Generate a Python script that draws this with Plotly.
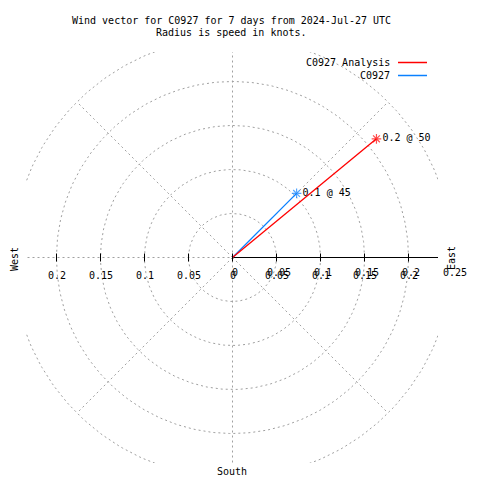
import numpy as np
import plotly.graph_objects as go

# ---- data ----
series_names = ["C0927", "C0927 Analysis"]
series_colors = ["#0a80ff", "#ff0000"]
speeds = [0.103, 0.212]          # knots
directions = [45.0, 50.5]        # degrees, compass (clockwise from north)
vector_labels = ["0.1 @ 45", "0.2 @ 50"]

grid_radii = [0.05, 0.10, 0.15, 0.20, 0.25]
spoke_angles = [45, 135, 225, 315]
x_tick_values = [-0.2, -0.15, -0.1, -0.05, 0.0, 0.05, 0.1, 0.15, 0.2]
x_tick_labels = ["0.2", "0.15", "0.1", "0.05", "0", "0.05", "0.1", "0.15", "0.2"]
r_tick_values = [0.0, 0.05, 0.1, 0.15, 0.2, 0.25]
r_tick_labels = ["0", "0.05", "0.1", "0.15", "0.2", "0.25"]

title_lines = ["Wind vector for C0927 for 7 days from 2024-Jul-27 UTC",
               "Radius is speed in knots."]

FONT = "DejaVu Sans Mono"
FS = 10
GRID = "#a0a0a0"
DASH = "2px,3px"

# page offset (body margin) = 8 px; work in screen pixels then convert
OFF = 8
W = H = 480 - OFF
L, R, T, B = 26 - OFF, 42, 52 - OFF, 17
CX, CY = 232.5 - OFF, 257.5 - OFF
S = 880.0  # px per knot
xr = [-(CX - L) / S, (W - R - CX) / S]
yr = [-(H - B - CY) / S, (CY - T) / S]


def px(x):
    return (x - OFF - L) / (W - L - R)


def py(y):
    return (H - B - (y - OFF)) / (H - T - B)


fig = go.Figure()
gridline = dict(color=GRID, width=1, dash=DASH)

# grid circles
theta = np.linspace(0, 2 * np.pi, 361)
for r in grid_radii:
    fig.add_trace(go.Scatter(x=r * np.cos(theta), y=r * np.sin(theta), mode="lines",
                             line=gridline, hoverinfo="skip", showlegend=False))
# spokes
rmax = grid_radii[-1]
for a in spoke_angles:
    t = np.deg2rad(a)
    fig.add_trace(go.Scatter(x=[0, rmax * np.sin(t)], y=[0, rmax * np.cos(t)], mode="lines",
                             line=gridline, hoverinfo="skip", showlegend=False))
# vertical full line, horizontal left half
fig.add_trace(go.Scatter(x=[0, 0], y=[-1, 1], mode="lines", line=gridline,
                         hoverinfo="skip", showlegend=False))
fig.add_trace(go.Scatter(x=[-1, 0], y=[0, 0], mode="lines", line=gridline,
                         hoverinfo="skip", showlegend=False))
# black axis to the right
fig.add_trace(go.Scatter(x=[0, 1], y=[0, 0], mode="lines", line=dict(color="black", width=1),
                         hoverinfo="skip", showlegend=False))

shapes = []
# tick marks
for tv in x_tick_values:
    shapes.append(dict(type="line", xref="x", yref="y", x0=tv, x1=tv,
                       ysizemode="pixel", yanchor=0, y0=-4, y1=4,
                       line=dict(color="black", width=1)))

# legend
legend_order = [1, 0]
annotations = []
tfont = dict(family=FONT, size=FS, color="black")
for i, idx in enumerate(legend_order):
    yy = 62.5 + i * 13
    shapes.append(dict(type="line", xref="paper", yref="paper",
                       x0=px(398), x1=px(427), y0=py(yy), y1=py(yy),
                       line=dict(color=series_colors[idx], width=1.5)))
    annotations.append(dict(xref="paper", yref="paper", x=px(392), y=py(yy),
                            text=series_names[idx], showarrow=False,
                            xanchor="right", yanchor="middle", font=tfont))

# vectors
for name, col, sp, d, lab in zip(series_names, series_colors, speeds, directions, vector_labels):
    t = np.deg2rad(d)
    ex, ey = sp * np.sin(t), sp * np.cos(t)
    fig.add_trace(go.Scatter(
        x=[0, ex], y=[0, ey], mode="lines+markers+text", name=name,
        line=dict(color=col, width=1.3),
        marker=dict(symbol="asterisk-open", size=[0, 8], color=col,
                    line=dict(color=col, width=1.2)),
        text=["", lab], textposition="middle right",
        textfont=tfont,
        showlegend=False, hoverinfo="skip", cliponaxis=False))

# tick labels (anchored at origin, shifted by the axis scale so off-range labels still show)
for v, lab in zip(x_tick_values, x_tick_labels):
    annotations.append(dict(xref="x", yref="y", x=0, y=0, xshift=v * S, yshift=-18, text=lab,
                            showarrow=False, xanchor="center", yanchor="middle", font=tfont))
for v, lab in zip(r_tick_values, r_tick_labels):
    annotations.append(dict(xref="x", yref="y", x=0, y=0, xshift=v * S + 2, yshift=-15, text=lab,
                            showarrow=False, xanchor="center", yanchor="middle", font=tfont))

# compass labels
annotations.append(dict(xref="paper", yref="paper", x=px(451), y=py(258), text="East",
                        textangle=-90, showarrow=False, xanchor="center", yanchor="middle",
                        font=tfont))
annotations.append(dict(xref="paper", yref="paper", x=px(15), y=py(259), text="West",
                        textangle=-90, showarrow=False, xanchor="center", yanchor="middle",
                        font=tfont))
annotations.append(dict(xref="paper", yref="paper", x=px(231.5), y=py(471), text="South",
                        showarrow=False, xanchor="center", yanchor="middle", font=tfont))
# titles
for i, tl in enumerate(title_lines):
    annotations.append(dict(xref="paper", yref="paper", x=px(231.5), y=py(20 + i * 13),
                            text=tl, showarrow=False, xanchor="center", yanchor="middle",
                            font=tfont))

fig.update_layout(
    width=W, height=H, margin=dict(l=L, r=R, t=T, b=B),
    paper_bgcolor="white", plot_bgcolor="white",
    xaxis=dict(range=xr, visible=False, fixedrange=True),
    yaxis=dict(range=yr, visible=False, fixedrange=True),
    shapes=shapes, annotations=annotations, showlegend=False,
)
fig.write_html("out.html")
